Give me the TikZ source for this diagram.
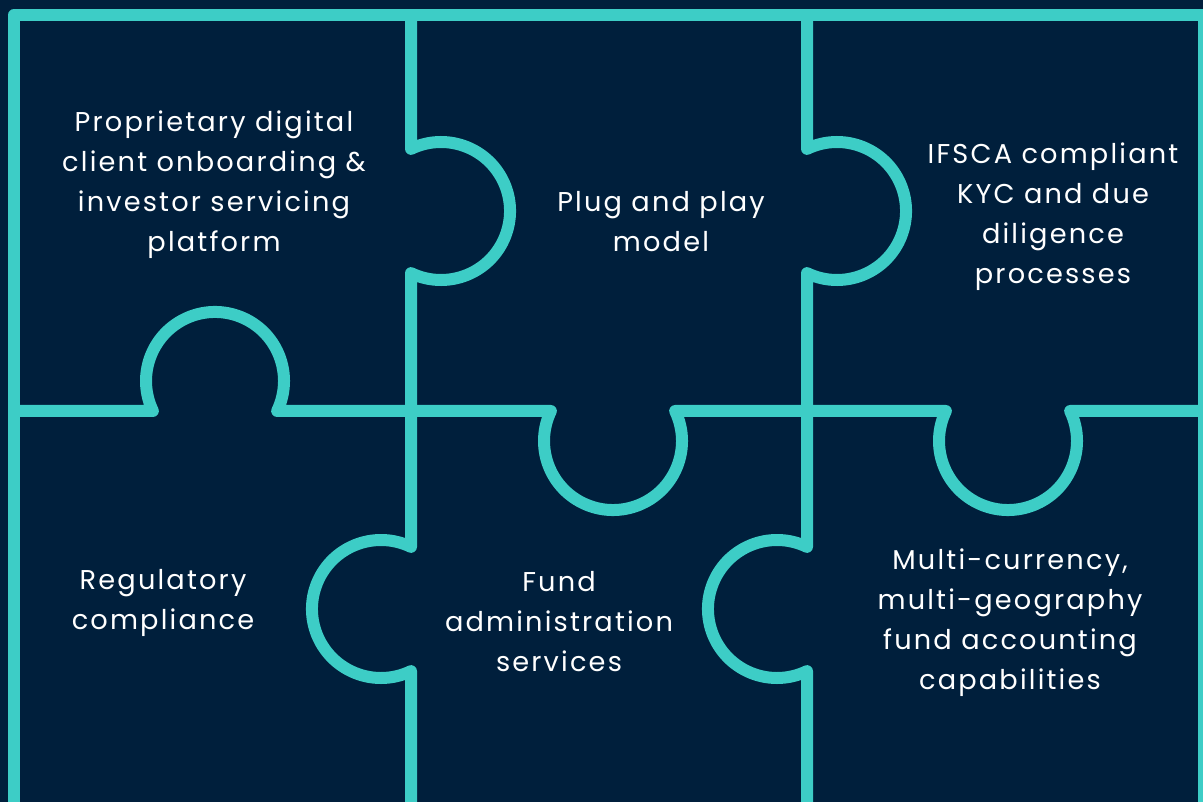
\documentclass[tikz,border=0pt]{standalone}
\usepackage{fontspec}
\setmainfont{Poppins}[LetterSpace=8]
\definecolor{navybg}{HTML}{001F3C}
\definecolor{tealline}{HTML}{3DCDC6}
\tikzset{
    piece/.style = {draw=tealline, line width=9pt, line join=round},
    label/.style = {text=white, align=center, font=\fontsize{20.4}{30}\selectfont},
}

\begin{document}
\begin{tikzpicture}[x=0.75pt, y=0.75pt]
	% background
	\fill [navybg] (0,0) rectangle (1203,802);
	\useasboundingbox (0,0) rectangle (1203,802);
	
	% outer frame
	\draw [piece] (14,-30) -- (14,787) -- (1204,787) -- (1204,-30);
	
	% first column edge
	\draw [piece] (411,787) -- (411,653.1)
		arc [start angle=115.8, end angle=-115.8, radius=69] -- (411,255.1)
		arc [start angle=64.2, end angle=295.8, radius=69] -- (411,-30);
	
	% second column edge
	\draw [piece] (807,787) -- (807,653.1)
		arc [start angle=115.8, end angle=-115.8, radius=69] -- (807,255.1)
		arc [start angle=64.2, end angle=295.8, radius=69] -- (807,-30);
	
	% middle row edge
	\draw [piece] (14,391) -- (152.9,391)
		arc [start angle=205.8, end angle=-25.8, radius=69] -- (550.9,391)
		arc [start angle=154.2, end angle=385.8, radius=69] -- (945.9,391)
		arc [start angle=154.2, end angle=385.8, radius=69] -- (1204,391);
	
	% top row texts
	\node [label] (onboarding) at (214,617) {Proprietary digital\\client onboarding \&\\investor servicing\\platform};
	\node [label] (plugPlay) at (661,580) {Plug and play\\model};
	\node [label] (kyc) at (1053,585) {IFSCA compliant\\KYC and due\\diligence\\processes};
	
	% bottom row texts
	\node [label] (regulatory) at (163,199) {Regulatory\\compliance};
	\node [label] (fundAdmin) at (559,180) {Fund\\administration\\services};
	\node [label] (accounting) at (1010,179) {Multi-currency,\\multi-geography\\fund accounting\\capabilities};
\end{tikzpicture}
\end{document}
